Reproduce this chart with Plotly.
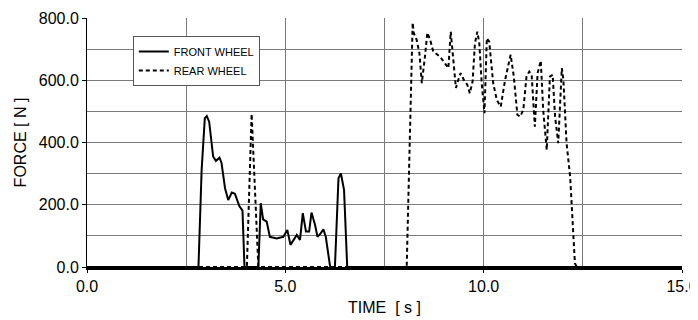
import plotly.graph_objects as go

front_t = [0.0, 2.81, 2.89, 2.97, 3.02, 3.08, 3.18, 3.25, 3.34, 3.39, 3.48, 3.56, 3.65, 3.73, 3.84, 3.92, 3.97,
           4.32, 4.38, 4.44, 4.53, 4.61, 4.78, 4.95, 5.05, 5.13, 5.29, 5.37, 5.44, 5.52, 5.60, 5.66, 5.75, 5.81,
           5.89, 5.96, 6.02, 6.13, 6.25, 6.34, 6.40, 6.48, 6.56, 15.0]
front_f = [0, 0, 312, 478, 485, 467, 355, 341, 351, 335, 253, 215, 239, 235, 196, 181, 0,
           0, 205, 153, 146, 97, 92, 97, 119, 71, 103, 87, 173, 114, 114, 175, 135, 97,
           108, 121, 97, 0, 0, 285, 301, 248, 0, 0]

rear_t = [0.0, 4.03, 4.15, 4.32, 8.06, 8.21, 8.24, 8.31, 8.38, 8.44, 8.52, 8.58, 8.65, 8.73, 8.90, 9.11, 9.17,
          9.24, 9.30, 9.36, 9.42, 9.50, 9.59, 9.65, 9.72, 9.78, 9.84, 9.89, 9.95, 10.02, 10.08, 10.14, 10.24,
          10.33, 10.43, 10.54, 10.68, 10.76, 10.85, 10.92, 11.00, 11.08, 11.15, 11.21, 11.29, 11.36, 11.44,
          11.50, 11.59, 11.67, 11.74, 11.80, 11.88, 11.97, 12.01, 12.09, 12.18, 12.30, 12.35, 15.0]
rear_f = [0, 0, 492, 0, 0, 785, 751, 730, 687, 591, 676, 753, 730, 692, 676, 639, 756,
          644, 575, 601, 623, 601, 585, 558, 596, 719, 756, 719, 591, 494, 735, 724, 591,
          537, 515, 601, 682, 612, 489, 483, 505, 612, 628, 617, 451, 623, 663,
          505, 376, 612, 617, 483, 398, 639, 601, 398, 290, 12, 0, 0]

x_ticks = [0, 5, 10, 15]
x_labels = ["0.0", "5.0", "10.0", "15.0"]
y_ticks = [0, 200, 400, 600, 800]
y_labels = ["0.0", "200.0", "400.0", "600.0", "800.0"]

fig = go.Figure()
fig.add_trace(go.Scatter(x=front_t, y=front_f, mode="lines", name="FRONT WHEEL",
                         line=dict(color="black", width=2)))
fig.add_trace(go.Scatter(x=rear_t, y=rear_f, mode="lines", name="REAR WHEEL",
                         line=dict(color="black", width=2, dash="4px,3px")))

font = "Liberation Sans, Arial, sans-serif"
grid = "#7a7a7a"
# page body has an 8px margin, so the figure is sized to fit the 698x320 window
fig.update_layout(
    width=690, height=312,
    margin=dict(l=79, r=16, t=10, b=53),
    plot_bgcolor="white", paper_bgcolor="white",
    font=dict(family=font, size=16, color="black"),
    showlegend=True,
    legend=dict(x=0.077, y=0.928, xanchor="left", yanchor="top",
                bgcolor="white", bordercolor="#555555", borderwidth=1,
                font=dict(size=11, family=font), itemwidth=30,
                tracegroupgap=0),
    xaxis=dict(range=[0, 15], tickvals=x_ticks, ticktext=x_labels,
               showgrid=True, gridcolor=grid, gridwidth=1,
               minor=dict(dtick=2.5, showgrid=True, gridcolor=grid, gridwidth=1),
               showline=True, linecolor="black", linewidth=3,
               ticks="outside", ticklen=3, tickcolor="black",
               ticklabeloverflow="allow",
               zeroline=False, automargin=False,
               title=dict(text="TIME  [ s ]", standoff=8, font=dict(size=16))),
    yaxis=dict(range=[0, 800], tickvals=y_ticks, ticktext=y_labels,
               showgrid=True, gridcolor=grid, gridwidth=1,
               minor=dict(dtick=100, showgrid=True, gridcolor=grid, gridwidth=1),
               showline=True, linecolor="black", linewidth=1,
               ticks="outside", ticklen=4, tickcolor="black",
               zeroline=False, automargin=False,
               title=dict(text="FORCE [ N ]", standoff=8, font=dict(size=16))),
)

fig.write_html("out.html")
